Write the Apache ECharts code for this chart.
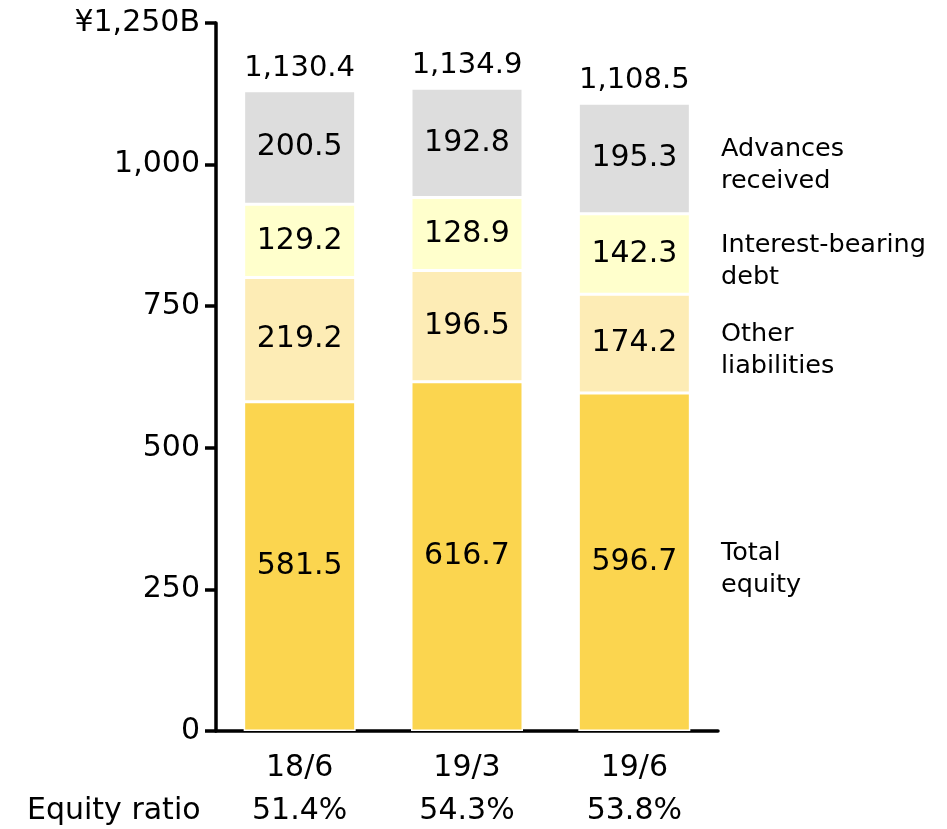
<!DOCTYPE html>
<html>
<head>
<meta charset="utf-8">
<script src="https://cdn.jsdelivr.net/npm/echarts@6/dist/echarts.min.js"></script>
<style>
  html, body { margin: 0; padding: 0; background: #fff; }
  #chart { width: 947px; height: 829px; }
</style>
</head>
<body>
<div id="chart"></div>
<script>
// Period labels and equity ratios
const periods = ['18/6', '19/3', '19/6'];
const equityRatios = ['51.4%', '54.3%', '53.8%'];

// Balance sheet components (¥ billions), bottom to top
const totalEquity = [581.5, 616.7, 596.7];
const otherLiabilities = [219.2, 196.5, 174.2];
const interestBearingDebt = [129.2, 128.9, 142.3];
const advancesReceived = [200.5, 192.8, 195.3];

// Component names shown beside the last bar
const componentNames = ['Total\nequity', 'Other\nliabilities', 'Interest-bearing\ndebt', 'Advances\nreceived'];
const componentColors = ['#fbd54f', '#fdecb5', '#ffffcc', '#dddddd'];

const yTicks = { min: 0, max: 1250, interval: 250 };

const FONT = 'DejaVu Sans';
const layers = [totalEquity, otherLiabilities, interestBearingDebt, advancesReceived];
const totals = periods.map((_, i) => +layers.reduce((s, arr) => s + arr[i], 0).toFixed(1));

function fmt(v, digits) {
  return v.toLocaleString('en-US', { minimumFractionDigits: digits, maximumFractionDigits: digits });
}

const chart = echarts.init(document.getElementById('chart'), null, { renderer: 'canvas' });

const barSeries = layers.map((arr, k) => ({
  type: 'bar',
  stack: 'bs',
  name: componentNames[k],
  data: arr,
  barWidth: 112,
  itemStyle: { color: componentColors[k], borderColor: '#ffffff', borderWidth: 1.5 },
  label: {
    show: true,
    position: 'inside',
    color: '#000',
    fontFamily: FONT,
    fontSize: 30,
    formatter: p => fmt(p.value, 1)
  },
  emphasis: { disabled: true },
  animation: false
}));

// Invisible points at each bar's total carry the total label
const totalSeries = {
  type: 'scatter',
  data: totals,
  symbolSize: 0,
  itemStyle: { opacity: 1 },
  label: {
    show: true,
    position: 'top',
    distance: 8,
    color: '#000',
    opacity: 1,
    fontFamily: FONT,
    fontSize: 29,
    formatter: p => fmt(p.value, 1)
  },
  animation: false,
  z: 5
};

chart.setOption({
  backgroundColor: '#ffffff',
  animation: false,
  grid: { left: 216, top: 23, width: 502, bottom: 98, containLabel: false },
  xAxis: {
    type: 'category',
    data: periods,
    axisLine: { lineStyle: { color: '#000', width: 3.5 } },
    axisTick: { show: false },
    axisLabel: {
      margin: 16,
      fontFamily: FONT,
      color: '#000',
      formatter: (v, i) => '{p|' + v + '}\n{r|' + equityRatios[i] + '}',
      rich: {
        p: { fontFamily: FONT, fontSize: 30, lineHeight: 42, color: '#000' },
        r: { fontFamily: FONT, fontSize: 30, lineHeight: 44, color: '#000' }
      }
    }
  },
  yAxis: {
    type: 'value',
    min: yTicks.min,
    max: yTicks.max,
    interval: yTicks.interval,
    axisLine: { show: true, lineStyle: { color: '#000', width: 3.5 } },
    axisTick: { show: true, inside: false, length: 11, lineStyle: { color: '#000', width: 3.5 } },
    splitLine: { show: false },
    axisLabel: {
      margin: 16,
      fontFamily: FONT,
      fontSize: 30,
      color: '#000',
      formatter: v => v === yTicks.max ? '¥' + fmt(v, 0) + 'B' : fmt(v, 0)
    }
  },
  series: [...barSeries, totalSeries]
});

// Component names beside the last bar, centred on each segment
const last = periods.length - 1;
let base = 0;
const nameTexts = layers.map((arr, k) => {
  const mid = base + arr[last] / 2;
  base += arr[last];
  const px = chart.convertToPixel({ seriesIndex: 0 }, [last, mid]);
  return {
    type: 'text',
    left: 721,
    top: px[1] + 7 - 32,
    style: {
      text: componentNames[k],
      fontFamily: FONT,
      fontSize: 25.5,
      lineHeight: 32,
      fill: '#000'
    }
  };
});

chart.setOption({
  graphic: [
    ...nameTexts,
    {
      type: 'text',
      left: 27,
      top: 796,
      style: { text: 'Equity ratio', fontFamily: FONT, fontSize: 30, fill: '#000' }
    }
  ]
});
</script>
</body>
</html>
